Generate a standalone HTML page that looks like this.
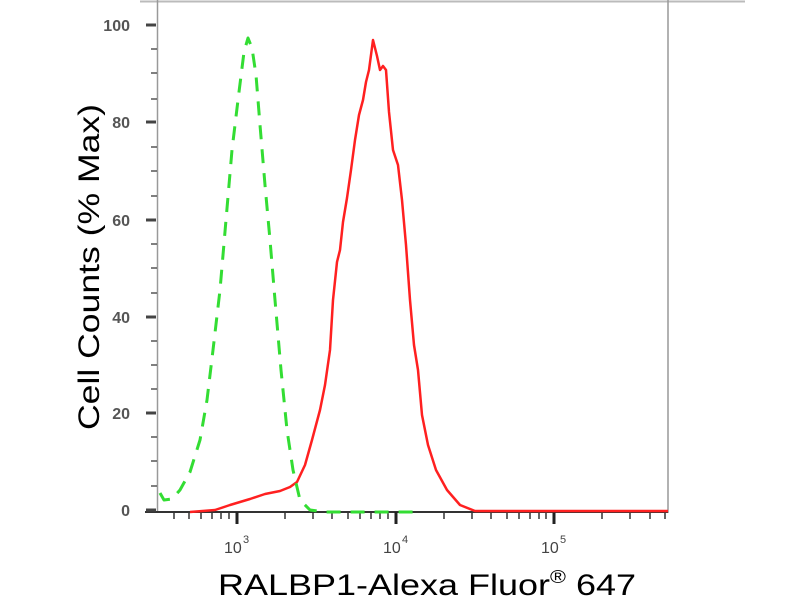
<!DOCTYPE html>
<html><head><meta charset="utf-8"><style>
body{margin:0;background:#fff;}
svg text{font-family:"Liberation Sans",sans-serif;}
</style></head><body>
<svg width="800" height="600" xmlns="http://www.w3.org/2000/svg">
<line x1="140" y1="1.5" x2="745" y2="1.5" stroke="#bbb" stroke-width="2"/>
<line x1="157.5" y1="0" x2="157.5" y2="513" stroke="#999" stroke-width="1.5"/>
<line x1="668" y1="0" x2="668" y2="513" stroke="#999" stroke-width="1.5"/>
<line x1="145" y1="512" x2="668" y2="512" stroke="#333" stroke-width="2"/>
<g stroke="#444" stroke-width="3">
<line x1="146" y1="25" x2="156" y2="25"/><line x1="146" y1="122" x2="156" y2="122"/>
<line x1="146" y1="220" x2="156" y2="220"/><line x1="146" y1="317" x2="156" y2="317"/>
<line x1="146" y1="413" x2="156" y2="413"/><line x1="146" y1="510" x2="156" y2="510"/>
</g>
<g stroke="#555" stroke-width="1.5">
<line x1="151" y1="49" x2="157" y2="49"/><line x1="151" y1="73" x2="157" y2="73"/><line x1="151" y1="99" x2="157" y2="99"/>
<line x1="151" y1="147" x2="157" y2="147"/><line x1="151" y1="171" x2="157" y2="171"/><line x1="151" y1="196" x2="157" y2="196"/>
<line x1="151" y1="244" x2="157" y2="244"/><line x1="151" y1="268" x2="157" y2="268"/><line x1="151" y1="293" x2="157" y2="293"/>
<line x1="151" y1="341" x2="157" y2="341"/><line x1="151" y1="365" x2="157" y2="365"/><line x1="151" y1="389" x2="157" y2="389"/>
<line x1="151" y1="437" x2="157" y2="437"/><line x1="151" y1="461" x2="157" y2="461"/><line x1="151" y1="486" x2="157" y2="486"/>
</g>
<g font-size="16" fill="#555" font-weight="bold" text-anchor="end">
<text x="130" y="31">100</text><text x="130" y="128">80</text><text x="130" y="226">60</text>
<text x="130" y="323">40</text><text x="130" y="419">20</text><text x="130" y="516">0</text>
</g>
<g stroke="#333" stroke-width="1.5">
<line x1="174" y1="512" x2="174" y2="519"/><line x1="189" y1="512" x2="189" y2="519"/><line x1="201" y1="512" x2="201" y2="519"/><line x1="212" y1="512" x2="212" y2="519"/><line x1="221" y1="512" x2="221" y2="519"/><line x1="229" y1="512" x2="229" y2="519"/>
<line x1="285" y1="512" x2="285" y2="519"/><line x1="313" y1="512" x2="313" y2="519"/><line x1="332" y1="512" x2="332" y2="519"/><line x1="348" y1="512" x2="348" y2="519"/><line x1="360" y1="512" x2="360" y2="519"/><line x1="371" y1="512" x2="371" y2="519"/><line x1="380" y1="512" x2="380" y2="519"/><line x1="388" y1="512" x2="388" y2="519"/>
<line x1="444" y1="512" x2="444" y2="519"/><line x1="472" y1="512" x2="472" y2="519"/><line x1="491" y1="512" x2="491" y2="519"/><line x1="507" y1="512" x2="507" y2="519"/><line x1="519" y1="512" x2="519" y2="519"/><line x1="530" y1="512" x2="530" y2="519"/><line x1="539" y1="512" x2="539" y2="519"/><line x1="546" y1="512" x2="546" y2="519"/>
<line x1="602" y1="512" x2="602" y2="519"/><line x1="630" y1="512" x2="630" y2="519"/><line x1="650" y1="512" x2="650" y2="519"/><line x1="665" y1="512" x2="665" y2="519"/>
</g>
<g stroke="#222" stroke-width="3">
<line x1="237" y1="512" x2="237" y2="524"/><line x1="396" y1="512" x2="396" y2="524"/><line x1="554" y1="512" x2="554" y2="524"/>
</g>
<g font-size="16" fill="#444">
<text x="224" y="553">10</text><text x="243" y="543" font-size="11">3</text>
<text x="383" y="553">10</text><text x="402" y="543" font-size="11">4</text>
<text x="541" y="553">10</text><text x="560" y="543" font-size="11">5</text>
</g>
<polyline fill="none" stroke="#ff2020" stroke-width="2.5" stroke-linejoin="round" points="190,512 215,510 230,505 250,499 265,494 280,491 290,487 297,482 305,465 312,440 320,410 325,385 330,350 333,300 337,262 340,250 343,222 347,198 351,170 355,140 359,115 363,100 366,82 369,70 373,40 377,56 380,70 383,66 386,70 389,112 393,150 398,165 402,200 406,245 410,300 414,345 418,370 422,415 428,445 436,470 447,490 460,505 475,511 668,511"/>
<polyline fill="none" stroke="#33dd33" stroke-width="3" stroke-dasharray="14,10" stroke-linejoin="round" points="160,493 164,500 172,499 180,490 190,472 200,440 207,400 213,350 220,290 226,220 232,150 238,100 244,52 248,38 252,48 256,75 260,125 265,185 270,240 275,300 281,370 287,430 293,470 300,500 310,510 325,512 420,512"/>
<text x="0" y="0" font-size="30" fill="#000" text-anchor="middle" textLength="326" lengthAdjust="spacingAndGlyphs" transform="translate(99,267) rotate(-90)">Cell Counts (% Max)</text>
<text x="218" y="595" font-size="30" fill="#000" textLength="418" lengthAdjust="spacingAndGlyphs">RALBP1-Alexa Fluor<tspan font-size="18" dy="-12">®</tspan><tspan dy="12"> 647</tspan></text>
</svg>
</body></html>
